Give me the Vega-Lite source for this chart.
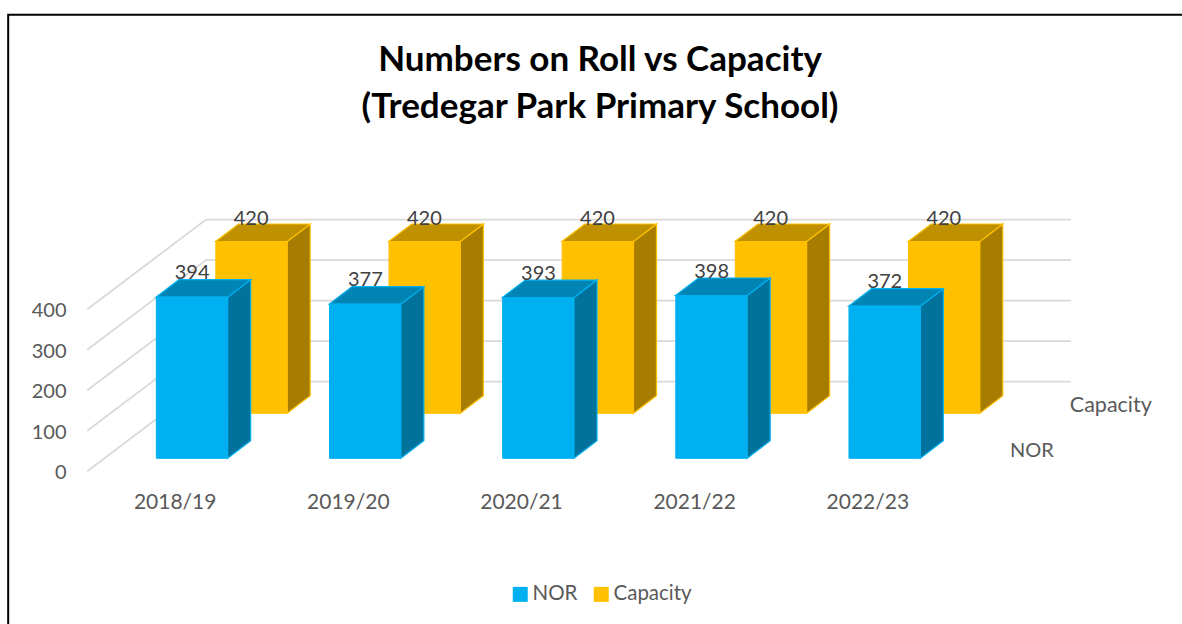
{
"$schema":"https://vega.github.io/schema/vega-lite/v6.json",
"width":1182,"height":624,"padding":0,"autosize":{"type":"none"},"background":"white",
"config":{"view":{"stroke":null},"font":"Lato"},
"title":{"text":["Numbers on Roll vs Capacity","(Tredegar Park Primary School)"],"font":"Lato","fontSize":35,"fontWeight":"bold","color":"#000000","anchor":"middle","frame":"group","baseline":"top","lineHeight":47,"offset":0,"dx":9,"dy":125},
"data":{"values":[
{"year":"2018/19","series":"NOR","value":394},{"year":"2019/20","series":"NOR","value":377},{"year":"2020/21","series":"NOR","value":393},{"year":"2021/22","series":"NOR","value":398},{"year":"2022/23","series":"NOR","value":372},
{"year":"2018/19","series":"Capacity","value":420},{"year":"2019/20","series":"Capacity","value":420},{"year":"2020/21","series":"Capacity","value":420},{"year":"2021/22","series":"Capacity","value":420},{"year":"2022/23","series":"Capacity","value":420}
]},
"encoding":{"x":{"field":"year","type":"nominal","sort":null,"title":null,"scale":{"type":"band","range":[88.6,954.4],"paddingInner":0,"paddingOuter":0},"axis":{"orient":"bottom","offset":-122,"domain":false,"ticks":false,"labelAngle":0,"labelFontSize":21,"labelColor":"#595959","labelFont":"Lato","labelBaseline":"middle","labelPadding":0,"grid":false}}},
"resolve":{"scale":{"y":"independent"},"axis":{"y":"independent"}},
"layer":[
{"data":{"values":[{"year":"2018/19","tick":0},{"year":"2018/19","tick":100},{"year":"2018/19","tick":200},{"year":"2018/19","tick":300},{"year":"2018/19","tick":400}]},
 "encoding":{"y":{"field":"tick","type":"quantitative","title":null,"scale":{"domain":[-377,1163.7],"nice":false,"zero":false},"axis":{"orient":"left","offset":-66,"values":[0,100,200,300,400],"domain":false,"ticks":false,"grid":false,"labelPadding":0,"labelFontSize":20,"labelColor":"#595959","labelFont":"Lato","labelOffset":1.5}}},
 "layer":[
  {"mark":{"type":"point","shape":"M-87.9,0L30.8,-89.7L895.8,-89.7","size":4,"filled":false,"opacity":1,"stroke":"#D9D9D9","strokeWidth":1.8}},
  {"transform":[{"filter":"datum.tick===0"}],"mark":{"type":"point","shape":"M-167,200L-167,-456.5L1100,-456.5","size":4,"filled":false,"opacity":1,"stroke":"#000000","strokeWidth":2}}
 ]},
{"encoding":{"y":{"field":"value","type":"quantitative","title":null,"scale":{"domain":[-405.1,1120.5],"nice":false,"zero":false},"axis":null}},
 "layer":[
  {"transform":[{"filter":"datum.series==='Capacity'"}],"mark":{"type":"point","size":4,"filled":true,"opacity":1,"fill":"#A67D00","stroke":"#FFC000","strokeWidth":1.2,"xOffset":59.5,"yOffset":-45},
   "encoding":{"shape":{"field":"value","type":"nominal","legend":null,"scale":{"domain":[372,377,393,394,398,420],"range":["M52.5,0L75.5,-17.5L75.5,134.6L52.5,152.1Z","M52.5,0L75.5,-17.5L75.5,136.7L52.5,154.2Z","M52.5,0L75.5,-17.5L75.5,143.2L52.5,160.7Z","M52.5,0L75.5,-17.5L75.5,143.6L52.5,161.1Z","M52.5,0L75.5,-17.5L75.5,145.3L52.5,162.8Z","M52.5,0L75.5,-17.5L75.5,154.3L52.5,171.8Z"]}}}},
  {"transform":[{"filter":"datum.series==='Capacity'"}],"mark":{"type":"point","shape":"M-19.2,0L3.8,-17.5L75.5,-17.5L52.5,0Z","size":4,"filled":true,"opacity":1,"fill":"#BF9000","stroke":"#FFC000","strokeWidth":1.2,"xOffset":59.5,"yOffset":-45}},
  {"transform":[{"filter":"datum.series==='Capacity'"}],"mark":{"type":"bar","width":71,"xOffset":76.15,"yOffset":-45,"stroke":"#FFC000","strokeWidth":1},
   "encoding":{"color":{"field":"series","type":"nominal","title":null,"scale":{"domain":["NOR","Capacity"],"range":["#00B0F0","#FFC000"]},
     "legend":{"orient":"none","legendX":510,"legendY":584,"direction":"horizontal","columns":2,"title":null,"symbolType":"square","symbolSize":225,"symbolStrokeWidth":0,"labelFontSize":20.5,"labelColor":"#595959","labelFont":"Lato","columnPadding":13,"labelOffset":2}}}},
  {"transform":[{"filter":"datum.series==='NOR'"}],"mark":{"type":"point","size":4,"filled":true,"opacity":1,"fill":"#00729C","stroke":"#00B0F0","strokeWidth":1.2},
   "encoding":{"shape":{"field":"value","type":"nominal","legend":null,"scale":{"domain":[372,377,393,394,398,420],"range":["M52.5,0L75.5,-17.5L75.5,134.6L52.5,152.1Z","M52.5,0L75.5,-17.5L75.5,136.7L52.5,154.2Z","M52.5,0L75.5,-17.5L75.5,143.2L52.5,160.7Z","M52.5,0L75.5,-17.5L75.5,143.6L52.5,161.1Z","M52.5,0L75.5,-17.5L75.5,145.3L52.5,162.8Z","M52.5,0L75.5,-17.5L75.5,154.3L52.5,171.8Z"]}}}},
  {"transform":[{"filter":"datum.series==='NOR'"}],"mark":{"type":"point","shape":"M-19.2,0L3.8,-17.5L75.5,-17.5L52.5,0Z","size":4,"filled":true,"opacity":1,"fill":"#0084B4","stroke":"#00B0F0","strokeWidth":1.2}},
  {"transform":[{"filter":"datum.series==='NOR'"}],"mark":{"type":"bar","width":71,"xOffset":16.65,"stroke":"#00B0F0","strokeWidth":1},
   "encoding":{"color":{"field":"series","type":"nominal","title":null,"scale":{"domain":["NOR","Capacity"],"range":["#00B0F0","#FFC000"]}}}},
  {"transform":[{"filter":"datum.series==='Capacity'"}],"mark":{"type":"text","font":"Lato","fontSize":20,"color":"#404040","xOffset":76,"yOffset":-67.5},"encoding":{"text":{"field":"value","type":"quantitative"}}},
  {"transform":[{"filter":"datum.series==='NOR'"}],"mark":{"type":"text","font":"Lato","fontSize":20,"color":"#404040","xOffset":17,"yOffset":-24},"encoding":{"text":{"field":"value","type":"quantitative"}}},
  {"transform":[{"filter":"datum.series==='NOR' && datum.year==='2022/23'"}],"mark":{"type":"text","font":"Lato","fontSize":20,"color":"#595959","xOffset":164,"yOffset":-7.5},"encoding":{"y":{"datum":0,"type":"quantitative"},"text":{"field":"series"}}},
  {"transform":[{"filter":"datum.series==='Capacity' && datum.year==='2022/23'"}],"mark":{"type":"text","font":"Lato","fontSize":21.5,"color":"#595959","xOffset":243,"yOffset":-52},"encoding":{"y":{"datum":0,"type":"quantitative"},"text":{"field":"series"}}}
 ]}
]
}
